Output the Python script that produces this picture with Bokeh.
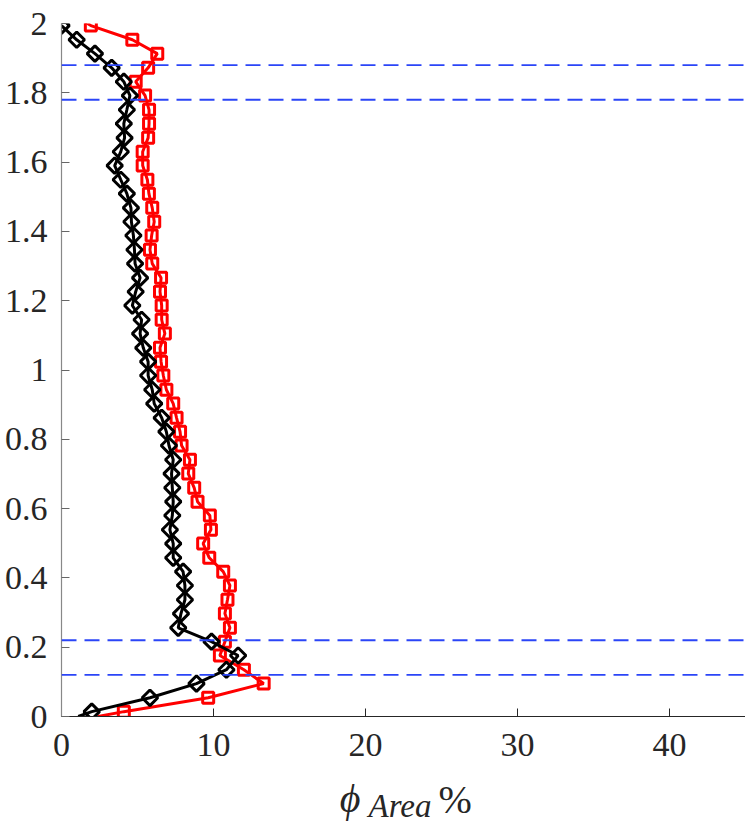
import math
from bokeh.plotting import figure
from bokeh.layouts import column
from bokeh.models import Span, FixedTicker, Range1d
from bokeh.core.properties import value
from bokeh.embed import file_html
from bokeh.resources import INLINE

# depth positions of the sampled points (y axis)
depth = [0.014, 0.054, 0.095, 0.135, 0.176, 0.216, 0.256, 0.297, 0.337, 0.378,
         0.418, 0.458, 0.499, 0.539, 0.580, 0.620, 0.660, 0.701, 0.741, 0.782,
         0.822, 0.862, 0.903, 0.943, 0.984, 1.024, 1.064, 1.105, 1.145, 1.186,
         1.226, 1.266, 1.307, 1.347, 1.388, 1.428, 1.468, 1.509, 1.549, 1.590,
         1.630, 1.670, 1.711, 1.751, 1.792, 1.832, 1.872, 1.913, 1.953, 1.994]

# black diamond series (phi_Area %)
phi_black = [1.99, 5.82, 8.88, 10.85, 11.62, 9.87, 7.68, 7.86, 8.12, 8.12,
             8.00, 7.35, 7.35, 7.13, 7.29, 7.35, 7.29, 7.24, 7.35, 7.07,
             6.90, 6.59, 6.10, 5.97, 5.70, 5.70, 5.38, 5.17, 5.27, 4.66,
             4.88, 5.17, 4.84, 4.80, 4.73, 4.60, 4.57, 4.30, 3.90, 3.50,
             3.90, 4.15, 4.10, 4.30, 4.50, 4.10, 3.30, 2.20, 1.00, 0.00]

# red square series (phi_Area %)
phi_red = [4.10, 9.65, 13.30, 12.00, 10.42, 10.75, 11.08, 10.75, 10.92, 11.08,
           10.64, 9.72, 9.32, 9.83, 9.76, 8.95, 8.73, 8.34, 8.45, 7.90,
           7.80, 7.57, 7.35, 6.90, 6.70, 6.55, 6.48, 6.80, 6.59, 6.59,
           6.48, 6.55, 5.97, 5.82, 5.93, 6.10, 5.97, 5.75, 5.65, 5.34,
           5.34, 5.70, 5.76, 5.76, 5.50, 4.88, 5.70, 6.30, 4.66, 1.93]

# line-only end points (lines reach the axis limits beyond the markers)
black_end_x = [1.10]
black_end_y = [0.0]
red_end_x = [2.40, 1.16]
red_end_y = [0.0, 2.015]

# dashed reference levels
dashed_levels = [0.12, 0.22, 1.78, 1.88]

x_ticks = [0, 10, 20, 30, 40]
x_tick_labels = ["0", "10", "20", "30", "40"]
y_ticks = [0, 0.2, 0.4, 0.6, 0.8, 1.0, 1.2, 1.4, 1.6, 1.8, 2.0]
y_tick_labels = ["0", "0.2", "0.4", "0.6", "0.8", "1", "1.2", "1.4", "1.6", "1.8", "2"]

# x-axis title pieces: phi, subscript "Area", percent sign
title_parts = ["ϕ", "Area", "%"]

FONT = "Liberation Serif"
TOTAL_W = 745

xr = Range1d(0, 45)
p = figure(frame_width=684, frame_height=693,
           x_range=xr, y_range=Range1d(0, 2),
           output_backend="svg", toolbar_location=None,
           min_border_left=61, min_border_right=0,
           min_border_top=23, min_border_bottom=50)
p.outline_line_color = None
p.grid.visible = False

for lvl in dashed_levels:
    p.add_layout(Span(location=lvl, dimension="width", line_color="#2b45f7",
                      line_width=1.8, line_dash="15 8"))

# red series
p.line([red_end_x[0]] + phi_red + [red_end_x[1]],
       [red_end_y[0]] + depth + [red_end_y[1]],
       line_color="#ff0000", line_width=3)
p.scatter(phi_red, depth, marker="square", size=11, line_color="#ff0000",
          line_width=3, fill_alpha=0)

# black series
p.line(black_end_x + phi_black, black_end_y + depth,
       line_color="#000000", line_width=3)
p.scatter(phi_black, depth, marker="square", angle=math.pi / 4, size=11,
          line_color="#000000", line_width=3, fill_alpha=0)

# axes styling
p.xaxis.ticker = FixedTicker(ticks=x_ticks)
p.xaxis.major_label_overrides = dict(zip(x_ticks, x_tick_labels))
p.yaxis.ticker = FixedTicker(ticks=y_ticks)
p.yaxis.major_label_overrides = dict(zip(y_ticks, y_tick_labels))
for ax in (p.xaxis[0], p.yaxis[0]):
    ax.major_tick_in = 8
    ax.major_tick_out = 0
    ax.minor_tick_line_color = None
    ax.major_label_text_font = FONT
    ax.major_label_text_font_size = "34px"
    ax.major_label_text_color = "#262626"
p.xaxis.axis_line_color = "#262626"
p.xaxis.major_tick_line_color = "#262626"
p.xaxis.major_label_standoff = 17
p.yaxis.axis_line_color = "#888888"
p.yaxis.major_tick_line_color = "#666666"
p.yaxis.major_label_standoff = 14
p.xaxis.axis_line_width = 1.2
p.yaxis.axis_line_width = 1.2

# x-axis title strip below the chart; shares the x range, y in pixels
LAB_H = 58
q = figure(width=TOTAL_W, height=LAB_H, x_range=xr,
           y_range=Range1d(0, LAB_H), output_backend="svg",
           toolbar_location=None, min_border=0,
           x_axis_type=None, y_axis_type=None)
q.grid.visible = False
q.outline_line_color = None
q.text(x=[18.3], y=[26], text=[title_parts[0]], text_font=value(FONT),
       text_font_style="italic", text_font_size="40px", text_color="#262626",
       text_baseline="alphabetic")
q.text(x=[20.2], y=[19], text=[title_parts[1]], text_font=value(FONT),
       text_font_style="italic", text_font_size="33px", text_color="#262626",
       text_baseline="alphabetic")
q.text(x=[24.8], y=[25], text=[title_parts[2]], text_font=value(FONT),
       text_font_size="40px", text_color="#262626",
       text_baseline="alphabetic")

layout = column(p, q, spacing=0)
open("out.html", "w").write(file_html(layout, INLINE))
